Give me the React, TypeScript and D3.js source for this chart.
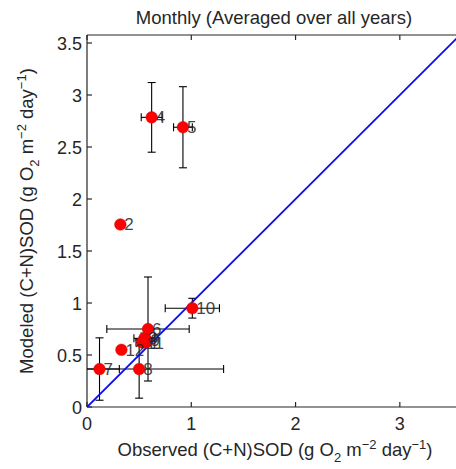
import React from "react";
import * as d3 from "d3";

const months = ["1", "2", "3", "4", "5", "6", "7", "8", "9", "10", "11", "12"];
const observed = [0.56, 0.32, 0.55, 0.62, 0.92, 0.585, 0.12, 0.5, 0.57, 1.01, 0.53, 0.33];
const modeled = [0.62, 1.755, 0.66, 2.785, 2.69, 0.75, 0.365, 0.365, 0.64, 0.95, 0.62, 0.55];
const observedErr = [0.05, 0.0, 0.1, 0.1, 0.09, 0.395, 0.19, 0.81, 0.04, 0.26, 0.06, 0.03];
const modeledErr = [0.04, 0.03, 0.05, 0.335, 0.39, 0.5, 0.3, 0.28, 0.05, 0.095, 0.03, 0.02];
const xTicks = [0, 1, 2, 3];
const yTicks = [0, 0.5, 1, 1.5, 2, 2.5, 3, 3.5];
const oneToOne = [0, 3.6];

const W = 456;
const H = 469;
const left = 87;
const right = 460;
const top = 35;
const bottom = 407;
const axisMax = 3.577;

export default function App() {
  const x = d3.scaleLinear().domain([0, axisMax]).range([left, right]);
  const y = d3.scaleLinear().domain([0, axisMax]).range([bottom, top]);
  const line = d3
    .line<number>()
    .x((d) => x(d))
    .y((d) => y(d));
  const cap = 4;
  const textColor = "#262626";
  const font = "Liberation Sans, Arial, sans-serif";
  const labelSize = 18.5;
  const supSize = 13;

  const unitLabel = (prefix: string) => (
    <>
      {prefix}
      <tspan fontSize={supSize} dy={6}>2</tspan>
      <tspan dy={-6}> m</tspan>
      <tspan fontSize={supSize} dy={-7}>−2</tspan>
      <tspan dy={7}> day</tspan>
      <tspan fontSize={supSize} dy={-7}>−1</tspan>
      <tspan dy={7}>)</tspan>
    </>
  );

  return (
    <svg
      width={W}
      height={H}
      style={{ position: "absolute", left: 0, top: 0, background: "#fff" }}
      fontFamily={font}
    >
      <defs>
        <clipPath id="plotClip">
          <rect x={left} y={top} width={right - left} height={bottom - top} />
        </clipPath>
      </defs>
      <rect x={0} y={0} width={W} height={H} fill="#fff" />
      {/* axes box */}
      <g stroke={textColor} strokeWidth={1.2} fill="none">
        <line x1={left} y1={bottom} x2={right} y2={bottom} />
        <line x1={left} y1={top} x2={right} y2={top} />
        <line x1={left} y1={top} x2={left} y2={bottom} />
        <line x1={right} y1={top} x2={right} y2={bottom} />
        {xTicks.map((t) => (
          <g key={"xt" + t}>
            <line x1={x(t)} x2={x(t)} y1={bottom} y2={bottom - 5} />
            <line x1={x(t)} x2={x(t)} y1={top} y2={top + 5} />
          </g>
        ))}
        {yTicks.map((t) => (
          <line key={"yt" + t} x1={left} x2={left + 5} y1={y(t)} y2={y(t)} />
        ))}
      </g>
      {xTicks.map((t) => (
        <text
          key={"xl" + t}
          x={x(t)}
          y={bottom + 23}
          textAnchor="middle"
          fontSize={18}
          fill={textColor}
        >
          {t}
        </text>
      ))}
      {yTicks.map((t) => (
        <text
          key={"yl" + t}
          x={left - 5}
          y={y(t) + 6.5}
          textAnchor="end"
          fontSize={18}
          fill={textColor}
        >
          {t}
        </text>
      ))}
      {/* error bars */}
      <g clipPath="url(#plotClip)" stroke="#000" strokeWidth={1.1}>
        {months.map((m, i) => {
          const cx = x(observed[i]);
          const cy = y(modeled[i]);
          const x0 = x(observed[i] - observedErr[i]);
          const x1 = x(observed[i] + observedErr[i]);
          const y0 = y(modeled[i] - modeledErr[i]);
          const y1 = y(modeled[i] + modeledErr[i]);
          return (
            <g key={"eb" + m}>
              <line x1={cx} x2={cx} y1={y0} y2={y1} />
              <line x1={cx - cap} x2={cx + cap} y1={y0} y2={y0} />
              <line x1={cx - cap} x2={cx + cap} y1={y1} y2={y1} />
              <line x1={x0} x2={x1} y1={cy} y2={cy} />
              <line x1={x0} x2={x0} y1={cy - cap} y2={cy + cap} />
              <line x1={x1} x2={x1} y1={cy - cap} y2={cy + cap} />
            </g>
          );
        })}
      </g>
      {/* 1:1 line */}
      <path
        d={line(oneToOne) || ""}
        clipPath="url(#plotClip)"
        stroke="#0c0cf0"
        strokeWidth={1.9}
        fill="none"
      />
      {/* points */}
      {months.map((m, i) => (
        <circle
          key={"pt" + m}
          cx={x(observed[i])}
          cy={y(modeled[i])}
          r={5.8}
          fill="#ff0000"
          stroke="#cc0000"
          strokeWidth={0.5}
        />
      ))}
      {months.map((m, i) => (
        <text
          key={"lb" + m}
          x={x(observed[i]) + 4}
          y={y(modeled[i]) + 6}
          fontSize={17}
          fill={textColor}
          opacity={0.85}
        >
          {m}
        </text>
      ))}
      {/* title */}
      <text x={274} y={24} textAnchor="middle" fontSize={18.5} fill={textColor}>
        Monthly (Averaged over all years)
      </text>
      {/* x label */}
      <text x={275} y={456} textAnchor="middle" fontSize={labelSize} fill={textColor}>
        {unitLabel("Observed (C+N)SOD (g O")}
      </text>
      {/* y label */}
      <text
        transform={`translate(33, ${(top + bottom) / 2}) rotate(-90)`}
        textAnchor="middle"
        fontSize={labelSize}
        fill={textColor}
      >
        {unitLabel("Modeled (C+N)SOD (g O")}
      </text>
    </svg>
  );
}
